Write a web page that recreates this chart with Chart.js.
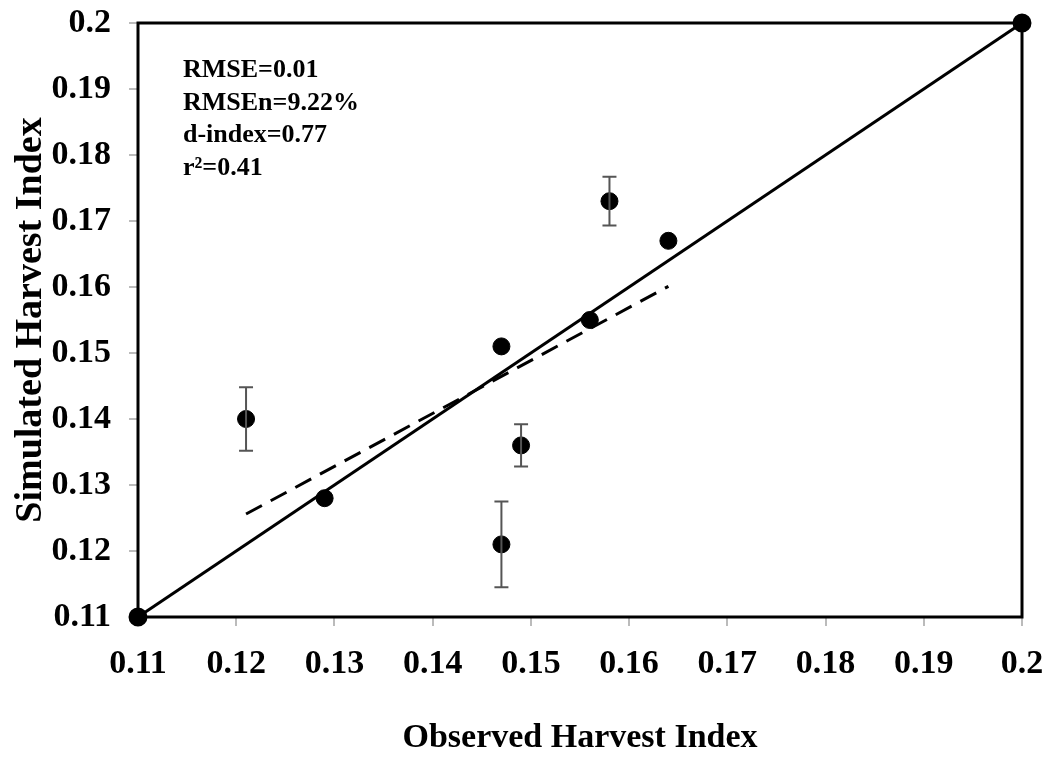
<!DOCTYPE html>
<html>
<head>
<meta charset="utf-8">
<script src="https://cdn.jsdelivr.net/npm/chart.js@4/dist/chart.umd.min.js"></script>
<style>
  html, body { margin: 0; padding: 0; background: #fff; }
  #wrap { width: 1049px; height: 759px; }
</style>
</head>
<body>
<div id="wrap"><canvas id="diagramm"></canvas></div>
<script>
// observed vs simulated harvest index
const observed = [0.121, 0.129, 0.147, 0.147, 0.149, 0.156, 0.158, 0.164];
const simulated = [0.140, 0.128, 0.151, 0.121, 0.136, 0.155, 0.173, 0.167];
const errors = [0.0048, 0, 0, 0.0065, 0.0032, 0, 0.0037, 0];

const oneToOneX = [0.11, 0.2];
const oneToOneY = [0.11, 0.2];
const trendX = [0.121, 0.164];
const trendY = [0.1256, 0.1601];

const tickValues = [0.11, 0.12, 0.13, 0.14, 0.15, 0.16, 0.17, 0.18, 0.19, 0.2];
const statsText = ["RMSE=0.01", "RMSEn=9.22%", "d-index=0.77", "r\u00B2=0.41"];

const serif = "'Liberation Serif', 'Times New Roman', serif";

const toPoints = (xs, ys) => xs.map((x, i) => ({ x: x, y: ys[i] }));

const frameAndErrors = {
  id: "frameAndErrors",
  beforeDatasetsDraw(chart) {
    const { ctx, chartArea } = chart;
    ctx.save();
    ctx.strokeStyle = "#000";
    ctx.lineWidth = 3;
    ctx.strokeRect(chartArea.left, chartArea.top, chartArea.right - chartArea.left, chartArea.bottom - chartArea.top);
    ctx.restore();
  },
  afterDatasetsDraw(chart) {
    const { ctx, scales } = chart;
    ctx.save();
    // error bars
    ctx.strokeStyle = "#555";
    ctx.lineWidth = 2;
    observed.forEach((x, i) => {
      if (!errors[i]) return;
      const px = scales.x.getPixelForValue(x);
      const top = scales.y.getPixelForValue(simulated[i] + errors[i]);
      const bot = scales.y.getPixelForValue(simulated[i] - errors[i]);
      ctx.beginPath();
      ctx.moveTo(px, top); ctx.lineTo(px, bot);
      ctx.moveTo(px - 7, top); ctx.lineTo(px + 7, top);
      ctx.moveTo(px - 7, bot); ctx.lineTo(px + 7, bot);
      ctx.stroke();
    });
    // stats text
    ctx.fillStyle = "#000";
    ctx.font = "bold 26px " + serif;
    ctx.textBaseline = "alphabetic";
    statsText.forEach((t, i) => {
      ctx.fillText(t, 183, 77 + i * 32.5);
    });
    ctx.restore();
  }
};

const ctx = document.getElementById("diagramm").getContext("2d");
new Chart(ctx, {
  type: "scatter",
  data: {
    datasets: [
      {
        data: toPoints(observed, simulated),
        backgroundColor: "#000",
        borderColor: "#000",
        pointRadius: 8.5,
        pointHoverRadius: 8.5,
        order: 0,
      },
      {
        type: "line",
        data: toPoints(oneToOneX, oneToOneY),
        borderColor: "#000",
        backgroundColor: "#000",
        borderWidth: 3,
        pointRadius: 8,
        clip: false,
        order: 1,
      },
      {
        type: "line",
        data: toPoints(trendX, trendY),
        borderColor: "#000",
        borderWidth: 3,
        borderDash: [18, 10],
        pointRadius: 0,
        order: 2,
      },
    ],
  },
  options: {
    responsive: true,
    maintainAspectRatio: false,
    animation: false,
    layout: { padding: { top: 23, right: 27, left: 0, bottom: 0 } },
    plugins: { legend: { display: false }, tooltip: { enabled: false } },
    scales: {
      x: {
        type: "linear",
        min: 0.11,
        max: 0.2,
        afterBuildTicks: (scale) => { scale.ticks = tickValues.map((v) => ({ value: v })); },
        afterFit: (scale) => {
          scale.height = 142;
          scale.paddingLeft = 0;
          scale.paddingRight = 0;
        },
        grid: { drawOnChartArea: false, color: "#bbb", tickLength: 9, lineWidth: 2 },
        border: { display: false },
        ticks: {
          color: "#000",
          padding: 18,
          font: { family: serif, size: 34, weight: "bold" },
          callback: (v) => String(Math.round(v * 100) / 100),
        },
        title: {
          display: true,
          text: "Observed Harvest Index",
          color: "#000",
          font: { family: serif, size: 34, weight: "bold" },
          padding: { top: 0, bottom: 0 },
        },
      },
      y: {
        type: "linear",
        min: 0.11,
        max: 0.2,
        afterBuildTicks: (scale) => { scale.ticks = tickValues.map((v) => ({ value: v })); },
        afterFit: (scale) => {
          scale.width = 138;
          scale.paddingTop = 0;
          scale.paddingBottom = 0;
        },
        grid: { drawOnChartArea: false, color: "#bbb", tickLength: 9, lineWidth: 2 },
        border: { display: false },
        ticks: {
          color: "#000",
          padding: 18,
          font: { family: serif, size: 34, weight: "bold" },
          callback: (v) => String(Math.round(v * 100) / 100),
        },
        title: {
          display: true,
          text: "Simulated Harvest Index",
          color: "#000",
          font: { family: serif, size: 38, weight: "bold" },
          padding: { top: 8, bottom: 0 },
        },
      },
    },
  },
  plugins: [frameAndErrors],
});
</script>
</body>
</html>
